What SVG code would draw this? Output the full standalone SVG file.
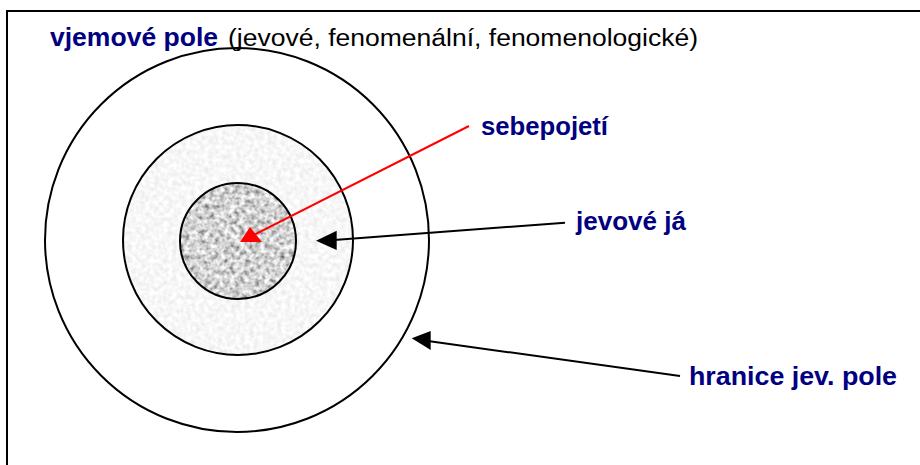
<svg xmlns="http://www.w3.org/2000/svg" width="920" height="465" viewBox="0 0 920 465">
  <style>
    .frame { stroke: #000; stroke-width: 2; fill: none; }
    .ring { stroke: #000; stroke-width: 2; fill: none; }
    .lbl { font-family: "Liberation Sans", Arial, sans-serif; font-weight: bold; fill: #000080; font-size: 25px; }
    .plain { font-family: "Liberation Sans", Arial, sans-serif; fill: #000; font-size: 23px; }
    .conn { stroke: #000; stroke-width: 2; fill: none; }
    .conn-red { stroke: #ff0000; stroke-width: 2; fill: none; }
    .head { fill: #000; stroke: none; }
    .head-red { fill: #ff0000; stroke: none; }
  </style>
  <defs>
    <filter id="speckleLight" x="0" y="0" width="1" height="1" filterUnits="objectBoundingBox">
      <feTurbulence type="fractalNoise" baseFrequency="0.22" numOctaves="2" seed="3" result="n"/>
      <feColorMatrix in="n" type="matrix" values="0.32 0 0 0 0.77  0.32 0 0 0 0.77  0.32 0 0 0 0.77  0 0 0 0 1" result="g"/>
      <feComposite in="g" in2="SourceGraphic" operator="in"/>
    </filter>
    <filter id="speckleDark" x="0" y="0" width="1" height="1" filterUnits="objectBoundingBox">
      <feTurbulence type="fractalNoise" baseFrequency="0.2" numOctaves="2" seed="7" result="n"/>
      <feColorMatrix in="n" type="matrix" values="1.4 0 0 0 -0.05  1.4 0 0 0 -0.05  1.4 0 0 0 -0.05  0 0 0 0 1" result="g"/>
      <feComposite in="g" in2="SourceGraphic" operator="in"/>
    </filter>
  </defs>
  <rect x="0" y="0" width="920" height="465" fill="#fff"/>
  <g id="frame">
    <line class="frame" x1="7" y1="11" x2="920" y2="11"/>
    <line class="frame" x1="7" y1="10" x2="7" y2="465"/>
  </g>
  <g id="title">
    <text class="lbl" x="50" y="46" textLength="168" lengthAdjust="spacingAndGlyphs">vjemové pole</text>
    <text class="plain" x="228" y="46" textLength="470" lengthAdjust="spacingAndGlyphs">(jevové, fenomenální, fenomenologické)</text>
  </g>
  <g id="hranice-pole">
    <circle class="ring" cx="237" cy="240" r="192"/>
  </g>
  <g id="jevove-ja">
    <circle cx="238" cy="240" r="115" fill="#eee" filter="url(#speckleLight)"/>
    <circle class="ring" cx="238" cy="240" r="115"/>
  </g>
  <g id="sebepojeti">
    <circle cx="238" cy="241" r="58" fill="#aaa" filter="url(#speckleDark)"/>
    <circle class="ring" cx="238" cy="241" r="58"/>
  </g>
  <g id="labels">
    <text class="lbl" x="481" y="135" textLength="127" lengthAdjust="spacingAndGlyphs">sebepojetí</text>
    <text class="lbl" x="576" y="230" textLength="110" lengthAdjust="spacingAndGlyphs">jevové já</text>
    <text class="lbl" x="689" y="385" textLength="208" lengthAdjust="spacingAndGlyphs">hranice jev. pole</text>
  </g>
  <g id="connectors">
    <line class="conn-red" x1="469" y1="126" x2="252" y2="236"/>
    <polygon class="head-red" points="240,242 250,227 262,242"/>
    <line class="conn" x1="565" y1="222.7" x2="334" y2="240"/>
    <polygon class="head" points="316,240.7 336.7,230.7 336.7,250"/>
    <line class="conn" x1="680" y1="376" x2="428" y2="341"/>
    <polygon class="head" points="411.7,338.3 430.7,331 430.7,350"/>
  </g>
</svg>
